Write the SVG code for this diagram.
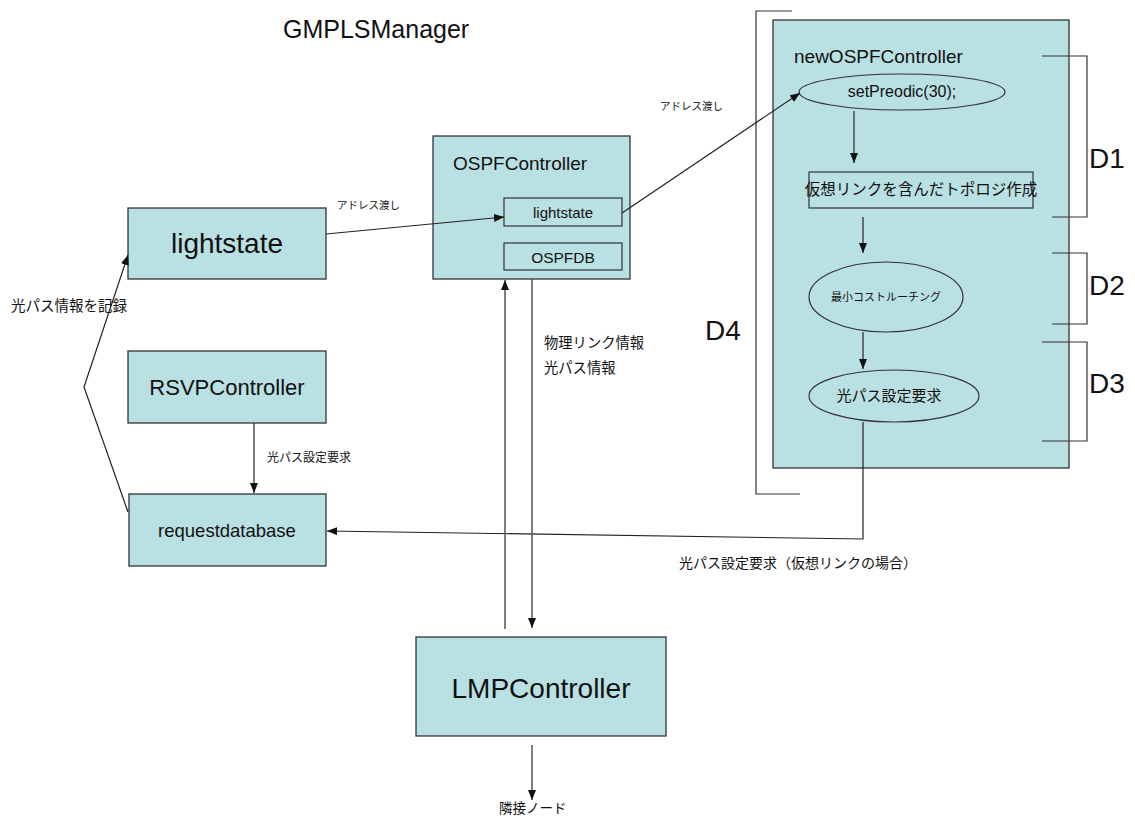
<svg xmlns="http://www.w3.org/2000/svg" width="1135" height="816" viewBox="0 0 1135 816">
  <style>
    .box { fill: #b9e0e2; stroke: #333; stroke-width: 1.3; }
    .sub { fill: #b9e0e2; stroke: #333; stroke-width: 1.2; }
    .lat { font-family: "Liberation Sans", Arial, sans-serif; fill: #111; }
    .jp { font-family: "Noto Sans CJK JP", "Liberation Sans", sans-serif; fill: #111; }
    .wire { fill: none; stroke: #222; stroke-width: 1.2; }
    .wire2 { fill: none; stroke: #555; stroke-width: 1.5; }
    .brk { fill: none; stroke: #333; stroke-width: 1.2; }
  </style>
  <defs>
    <marker id="arrow" viewBox="0 0 10 8" refX="10" refY="4" markerWidth="10" markerHeight="8" markerUnits="userSpaceOnUse" orient="auto">
      <path d="M0,0 L10,4 L0,8 z" fill="#111"/>
    </marker>
  </defs>

  <rect width="1135" height="816" fill="#fff"/>

  <!-- title -->
  <text class="lat" x="283" y="38" font-size="25">GMPLSManager</text>

  <!-- D4 bracket spanning the new controller -->
  <g id="bracket-d4">
    <polyline class="brk" points="792,11 756,11 756,494 800,494"/>
    <text class="lat" x="705" y="340" font-size="28">D4</text>
  </g>

  <!-- nodes -->
  <g id="lightstate">
    <rect class="box" x="128" y="208" width="198" height="71"/>
    <text class="lat" x="227" y="253" font-size="28" text-anchor="middle">lightstate</text>
  </g>

  <g id="rsvp-controller">
    <rect class="box" x="128" y="351" width="198" height="72"/>
    <text class="lat" x="227" y="395" font-size="22" text-anchor="middle">RSVPController</text>
  </g>

  <g id="requestdatabase">
    <rect class="box" x="129" y="494" width="197" height="72"/>
    <text class="lat" x="227" y="537" font-size="18.5" text-anchor="middle">requestdatabase</text>
  </g>

  <g id="ospf-controller">
    <rect class="box" x="433" y="136" width="197" height="143"/>
    <text class="lat" x="453" y="170" font-size="19">OSPFController</text>
    <g id="ospf-lightstate">
      <rect class="sub" x="504" y="198" width="118" height="28"/>
      <text class="lat" x="563" y="218" font-size="15" text-anchor="middle">lightstate</text>
    </g>
    <g id="ospf-db">
      <rect class="sub" x="504" y="243" width="118" height="27"/>
      <text class="lat" x="563" y="263" font-size="15.5" text-anchor="middle">OSPFDB</text>
    </g>
  </g>

  <g id="new-ospf-controller">
    <rect class="box" x="773" y="20" width="296" height="448"/>
    <text class="lat" x="794" y="63" font-size="19">newOSPFController</text>
    <g id="set-preodic">
      <ellipse class="sub" cx="902" cy="92" rx="103" ry="18"/>
      <text class="lat" x="902" y="97" font-size="16" text-anchor="middle">setPreodic(30);</text>
    </g>
    <g id="topology">
      <rect class="sub" x="809" y="172" width="224" height="36"/>
      <text class="jp" x="921" y="195" font-size="15.5" text-anchor="middle">仮想リンクを含んだトポロジ作成</text>
    </g>
    <g id="min-cost-routing">
      <ellipse class="sub" cx="886" cy="297" rx="77" ry="35"/>
      <text class="jp" x="886" y="301" font-size="11" text-anchor="middle">最小コストルーチング</text>
    </g>
    <g id="path-request">
      <ellipse class="sub" cx="894" cy="396" rx="85" ry="26"/>
      <text class="jp" x="889" y="401" font-size="15" text-anchor="middle">光パス設定要求</text>
    </g>
  </g>

  <g id="lmp-controller">
    <rect class="box" x="416" y="637" width="250" height="99"/>
    <text class="lat" x="541" y="698" font-size="28" text-anchor="middle">LMPController</text>
  </g>

  <!-- D1..D3 brackets -->
  <g id="bracket-d1">
    <polyline class="brk" points="1042,56 1087,56 1087,217 1052,217"/>
    <text class="lat" x="1089" y="168" font-size="28">D1</text>
  </g>
  <g id="bracket-d2">
    <polyline class="brk" points="1052,253 1087,253 1087,324 1052,324"/>
    <text class="lat" x="1089" y="295" font-size="28">D2</text>
  </g>
  <g id="bracket-d3">
    <polyline class="brk" points="1042,342 1087,342 1087,441 1042,441"/>
    <text class="lat" x="1089" y="393" font-size="28">D3</text>
  </g>

  <!-- connectors -->
  <g id="connectors">
    <line class="wire" x1="326" y1="234" x2="504" y2="217" marker-end="url(#arrow)"/>
    <line class="wire" x1="622" y1="213" x2="800" y2="93" marker-end="url(#arrow)"/>
    <line class="wire" x1="854" y1="111" x2="854" y2="163" marker-end="url(#arrow)"/>
    <line class="wire" x1="863" y1="217" x2="863" y2="253" marker-end="url(#arrow)"/>
    <line class="wire" x1="863" y1="332" x2="863" y2="369" marker-end="url(#arrow)"/>
    <polyline class="wire" points="863,422 863,539 327,531" marker-end="url(#arrow)"/>
    <line class="wire" x1="254" y1="423" x2="254" y2="493" marker-end="url(#arrow)"/>
    <polyline class="wire" points="128,512 84,387 128,255" marker-end="url(#arrow)"/>
    <line class="wire2" x1="505" y1="629" x2="505" y2="280" marker-end="url(#arrow)"/>
    <line class="wire2" x1="532" y1="279" x2="532" y2="628" marker-end="url(#arrow)"/>
    <line class="wire2" x1="532" y1="745" x2="532" y2="800" marker-end="url(#arrow)"/>
  </g>

  <!-- connector labels -->
  <g id="labels">
    <text class="jp" x="337" y="209" font-size="10.5">アドレス渡し</text>
    <text class="jp" x="660" y="110" font-size="10.5">アドレス渡し</text>
    <text class="jp" x="11" y="311" font-size="14.5">光パス情報を記録</text>
    <text class="jp" x="267" y="462" font-size="12">光パス設定要求</text>
    <text class="jp" x="544" y="348" font-size="14.3">物理リンク情報</text>
    <text class="jp" x="544" y="373" font-size="14.3">光パス情報</text>
    <text class="jp" x="679" y="568" font-size="14">光パス設定要求（仮想リンクの場合）</text>
    <text class="jp" x="499" y="813" font-size="13.5">隣接ノード</text>
  </g>
</svg>
